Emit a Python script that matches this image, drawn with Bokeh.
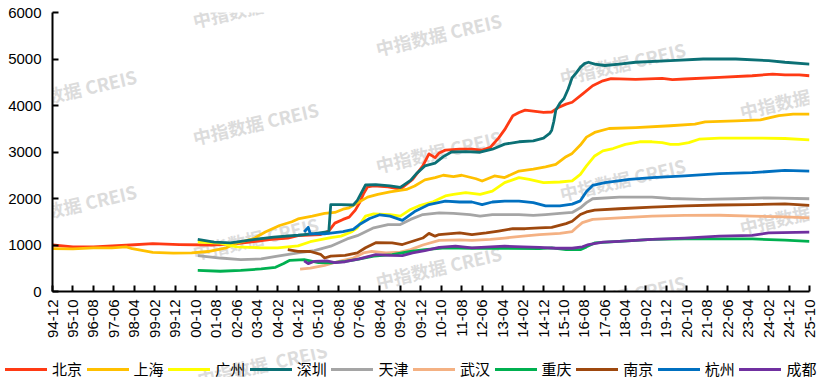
import math
from bokeh.plotting import figure
from bokeh.layouts import column
from bokeh.models import Range1d, FixedTicker, Div
from bokeh.core.properties import value
from bokeh.embed import file_html
from bokeh.resources import INLINE

# ---------------- data ----------------
tick_labels = ["94-12", "95-10", "96-08", "97-06", "98-04", "99-02", "99-12", "00-10",
               "01-08", "02-06", "03-04", "04-02", "04-12", "05-10", "06-08", "07-06",
               "08-04", "09-02", "09-12", "10-10", "11-08", "12-06", "13-04", "14-02",
               "14-12", "15-10", "16-08", "17-06", "18-04", "19-02", "19-12", "20-10",
               "21-08", "22-06", "23-04", "24-02", "24-12", "25-10"]
y_ticks = [0, 1000, 2000, 3000, 4000, 5000, 6000]

cities = ["北京", "上海", "广州", "深圳", "天津", "武汉", "重庆", "南京", "杭州", "成都"]

bj_dates = ["94-12","95-10","96-08","97-12","99-01","00-02","01-06","02-06","03-11","04-07","04-12","05-11",
            "06-03","06-06","06-10","07-01","07-04","07-06","07-08","07-10","08-01","08-08","09-02","09-08",
            "10-01","10-04","10-07","10-09","10-12","11-07","12-01","12-06","12-10","12-11","13-02","13-05",
            "13-09","13-12","14-03","14-07","14-12","15-04","15-07","15-11","16-02","16-07","16-12","17-05",
            "17-09","18-09","19-10","20-03","20-09","22-02","23-06","24-04","24-10","25-05","25-10"]
bj_vals = [1000,960,960,995,1030,1010,1000,1030,1120,1150,1200,1225,
           1300,1470,1550,1600,1750,1900,2100,2250,2270,2250,2200,2410,
           2700,2960,2880,2980,3040,3060,3060,3040,3100,3150,3300,3480,
           3780,3850,3900,3880,3850,3860,3950,4030,4070,4245,4425,4530,
           4580,4560,4585,4555,4570,4605,4640,4675,4660,4660,4640]

sh_dates = ["94-12","95-10","96-08","97-05","97-12","98-03","99-01","99-11","00-08","01-04","02-01","02-06",
            "03-02","03-08","04-03","04-09","04-12","05-07","06-01","06-06","06-10","07-01","07-05","07-10",
            "08-03","08-09","09-05","09-09","10-02","10-07","10-11","11-04","11-08","12-03","12-06","12-12",
            "13-05","13-12","14-07","15-01","15-06","15-11","16-02","16-06","16-09","17-01","17-08","18-09",
            "20-02","21-02","21-07","22-10","23-10","24-07","25-02","25-10"]
sh_vals = [920,915,940,940,960,920,840,825,830,860,940,1040,
           1130,1280,1420,1500,1560,1620,1680,1700,1770,1800,1900,2030,
           2090,2140,2195,2270,2400,2450,2500,2470,2500,2425,2375,2485,
           2450,2590,2630,2680,2735,2900,2970,3150,3320,3420,3505,3525,
           3565,3600,3650,3670,3690,3780,3815,3815]

gz_dates = ["00-11","01-10","02-06","03-06","04-02","04-12","05-06","06-04","06-09","07-02","07-05","07-09",
            "08-01","08-09","09-02","09-07","09-11","10-06","10-12","11-04","11-10","12-05","12-11","13-05",
            "13-12","14-05","14-12","15-08","16-02","16-06","16-09","17-01","17-05","17-10","18-04","18-11",
            "19-05","19-10","20-02","20-06","20-11","21-04","22-02","23-06","24-10","25-10"]
gz_vals = [1060,1040,960,940,940,980,1070,1160,1190,1280,1370,1620,
           1670,1655,1620,1765,1840,1930,2055,2090,2125,2090,2160,2340,
           2450,2410,2340,2355,2380,2520,2700,2915,3025,3075,3165,3220,
           3220,3200,3165,3165,3200,3275,3300,3300,3290,3260]

sz_dates = ["00-11","01-07","02-03","03-03","03-12","04-12","05-08","06-02","06-03","06-04","06-09","07-03",
            "07-05","07-09","08-02","08-09","09-02","09-07","09-10","10-02","10-07","10-11","11-03","11-10",
            "12-05","12-11","13-05","13-12","14-07","14-12","15-03","15-04","15-05","15-06","15-08","15-10",
            "15-12","16-02","16-04","16-06","16-08","16-10","17-01","17-06","18-01","18-09","20-02","21-06",
            "22-10","24-02","24-10","25-10"]
sz_vals = [1120,1060,1045,1120,1170,1210,1245,1280,1260,1870,1870,1860,
           1960,2290,2300,2270,2240,2390,2540,2700,2760,2900,3000,3010,
           2995,3060,3170,3220,3240,3300,3400,3470,3650,3900,4050,4150,
           4350,4600,4700,4820,4900,4930,4890,4860,4890,4930,4965,5000,
           5000,4965,4930,4890]

tj_dates = ["00-11","01-10","02-08","03-06","04-02","04-12","05-08","06-04","06-12","07-05","08-01","08-08",
            "09-02","09-07","10-01","10-09","11-04","11-12","12-05","12-11","13-12","14-07","15-01","15-08",
            "16-02","16-06","16-09","16-12","18-01","19-05","20-02","21-06","22-10","24-02","25-10"]
tj_vals = [770,720,685,700,760,830,880,975,1130,1200,1370,1440,
           1440,1550,1655,1690,1680,1655,1620,1655,1655,1635,1655,1680,
           1700,1800,1910,1995,2030,2030,2000,1980,1995,2015,1995]

wh_dates = ["05-01","05-06","06-01","06-08","07-03","07-08","07-12","08-07","09-02","09-07","10-01","10-09",
            "11-07","12-01","12-10","13-05","14-02","14-10","15-08","16-02","16-04","16-07","16-12","18-01",
            "19-05","20-09","22-02","23-06","24-10","25-10"]
wh_vals = [480,505,560,650,720,830,865,830,845,900,1000,1100,
           1110,1100,1120,1150,1190,1225,1250,1290,1370,1480,1550,1585,
           1620,1635,1640,1620,1605,1585]

cq_dates = ["00-11","01-10","02-08","03-06","04-01","04-05","04-08","05-03","05-10","06-04","06-11","07-05",
            "08-01","08-10","09-07","10-02","10-12","12-01","13-05","14-10","15-04","15-11","16-06","16-09",
            "17-01","18-01","19-05","20-09","23-06","24-10","25-10"]
cq_vals = [455,435,455,485,520,600,670,685,620,615,650,690,
           760,795,865,900,940,930,930,920,940,900,900,960,
           1045,1080,1120,1130,1130,1105,1080]

nj_dates = ["04-07","04-12","05-06","05-11","06-01","06-04","06-11","07-05","07-09","08-02","08-10","09-03",
            "09-08","10-01","10-04","10-07","10-09","11-07","12-01","12-08","13-02","13-09","14-03","14-10",
            "15-04","15-11","16-02","16-06","16-09","17-01","18-01","19-05","20-09","22-02","23-06","24-10","25-10"]
nj_vals = [900,865,860,800,720,760,775,830,940,1050,1045,1010,
           1080,1150,1250,1190,1225,1260,1225,1260,1300,1350,1350,1370,
           1380,1460,1510,1655,1710,1750,1780,1815,1840,1860,1870,1885,1850]

hz_dates = ["05-03","05-05","05-06","06-01","06-10","07-03","07-06","07-11","08-04","08-09","09-03","09-09",
            "10-04","10-12","11-07","12-01","12-06","12-11","13-05","13-12","14-07","15-01","15-08","16-02",
            "16-06","16-09","16-12","17-06","18-06","19-05","20-09","22-02","23-06","24-10","25-10"]
hz_vals = [1280,1380,1240,1240,1290,1335,1440,1570,1650,1620,1530,1720,
           1870,1945,1925,1925,1870,1925,1945,1945,1910,1840,1840,1880,
           1950,2150,2280,2340,2410,2450,2485,2535,2555,2605,2590]

cd_dates = ["05-03","05-05","05-08","06-02","06-06","06-11","07-06","08-02","08-09","09-03","09-08","10-02",
            "10-09","11-05","12-01","12-10","13-05","14-02","14-10","15-06","16-02","16-07","16-10","17-05",
            "18-01","19-05","20-09","22-02","23-06","24-02","25-10"]
cd_vals = [660,600,650,660,620,640,700,795,775,770,830,880,
           950,975,940,960,975,960,950,930,930,960,1010,1060,
           1080,1120,1150,1190,1205,1260,1275]

colors = ["#FF3A14", "#FFC000", "#FFFF00", "#0B7075", "#A5A5A5",
          "#F4B183", "#00B050", "#9E480E", "#0070C0", "#7030A0"]

series = [(bj_dates, bj_vals), (sh_dates, sh_vals), (gz_dates, gz_vals), (sz_dates, sz_vals),
          (tj_dates, tj_vals), (wh_dates, wh_vals), (cq_dates, cq_vals), (nj_dates, nj_vals),
          (hz_dates, hz_vals), (cd_dates, cd_vals)]


def month_index(s):
    yy, mm = s.split("-")
    yy, mm = int(yy), int(mm)
    year = 1900 + yy if yy >= 90 else 2000 + yy
    return (year - 1994) * 12 + (mm - 12)


WM_TEXT = "中指数据  CREIS"
WM_FONT = "Noto Sans CJK SC"
WM_COLOR = "#DCDCDC"

# ---------------- main figure ----------------
W = 816
H1 = 344
FL, FR, FT, FB = 60, 817, 20, 299          # frame edges in page pixels
p = figure(width=W, height=H1, output_backend="svg", toolbar_location=None,
           x_range=Range1d(0, 370), y_range=Range1d(0, 6000),
           min_border_left=FL - 8, min_border_right=8 + W - FR, min_border_top=FT - 8,
           min_border_bottom=H1 - (FB - 8))
p.xgrid.visible = False
p.ygrid.visible = False
p.outline_line_color = None
p.background_fill_color = "white"
p.border_fill_color = "white"


def px_to_data(cx, cy):
    return (cx - FL) / (FR - FL) * 370, (FB - cy) / (FB - FT) * 6000


# faint watermark (drawn under the lines, clipped to the plotting area)
wm_centers = [(83, 97), (83, 212), (83, 329),
              (265, 13), (265, 130), (265, 245),
              (448, 41), (448, 158), (448, 274),
              (632, 70), (632, 186), (632, 303),
              (812, 104), (812, 220), (812, 337)]
wx, wy = zip(*[px_to_data(cx, cy) for cx, cy in wm_centers])
p.text(x=list(wx), y=list(wy), text=[WM_TEXT] * len(wm_centers), level="underlay",
       angle=13, angle_units="deg", text_align="center", text_baseline="middle",
       text_font=value(WM_FONT), text_font_style="bold", text_font_size="18px",
       text_color=WM_COLOR)

for (d, v), c in zip(series, colors):
    p.line([month_index(s) for s in d], v, line_color=c, line_width=2.8, line_join="round")

tick_pos = [month_index(s) for s in tick_labels]
p.xaxis.ticker = FixedTicker(ticks=tick_pos)
p.xaxis.major_label_overrides = {t: s for t, s in zip(tick_pos, tick_labels)}
p.xaxis.major_label_orientation = math.pi / 2
p.yaxis.ticker = FixedTicker(ticks=y_ticks)

for ax in (p.xaxis[0], p.yaxis[0]):
    ax.axis_line_color = "black"
    ax.axis_line_width = 2
    ax.major_tick_line_color = "black"
    ax.major_tick_line_width = 2
    ax.major_tick_in = 6
    ax.major_tick_out = 0
    ax.minor_tick_line_color = None
    ax.major_label_text_font = "Liberation Sans"
    ax.major_label_text_font_size = "15px"
    ax.major_label_text_color = "black"
p.xaxis.major_label_standoff = 8
p.yaxis.major_label_standoff = 11

# ---------------- legend strip (HTML, page-pixel placement) ----------------
H2 = 372 - H1
strip_top = 8 + H1
legend_y = 372 - strip_top                # legend centre line, relative to the strip
step = 81.6
parts = ['<div style="position:relative;width:%dpx;height:%dpx;overflow:hidden;'
         'font-family:\'Noto Sans CJK SC\',sans-serif;">' % (W, H2)]
# watermark piece reaching into the legend strip
parts.append('<div style="position:absolute;left:%dpx;top:%dpx;transform:translate(-50%%,-50%%) rotate(-13deg);'
             'white-space:pre;color:%s;font-weight:bold;font-size:18px;line-height:1;">%s</div>'
             % (265 - 8, 367 - strip_top, WM_COLOR, WM_TEXT))
for i, (name, c) in enumerate(zip(cities, colors)):
    x0 = i * step
    parts.append('<div style="position:absolute;left:%.1fpx;top:%.1fpx;width:42px;height:3px;background:%s;"></div>'
                 % (x0, legend_y - 1.5, c))
    parts.append('<div style="position:absolute;left:%.1fpx;top:%.1fpx;transform:translateY(-50%%);'
                 'font-size:15px;line-height:1.1;color:#000;white-space:nowrap;">%s</div>'
                 % (x0 + 47, legend_y - 0.5, name))
parts.append('</div>')
legend_div = Div(text="".join(parts), width=W, height=H2)

layout = column(p, legend_div, spacing=0)
open("out.html", "w").write(file_html(layout, INLINE))
